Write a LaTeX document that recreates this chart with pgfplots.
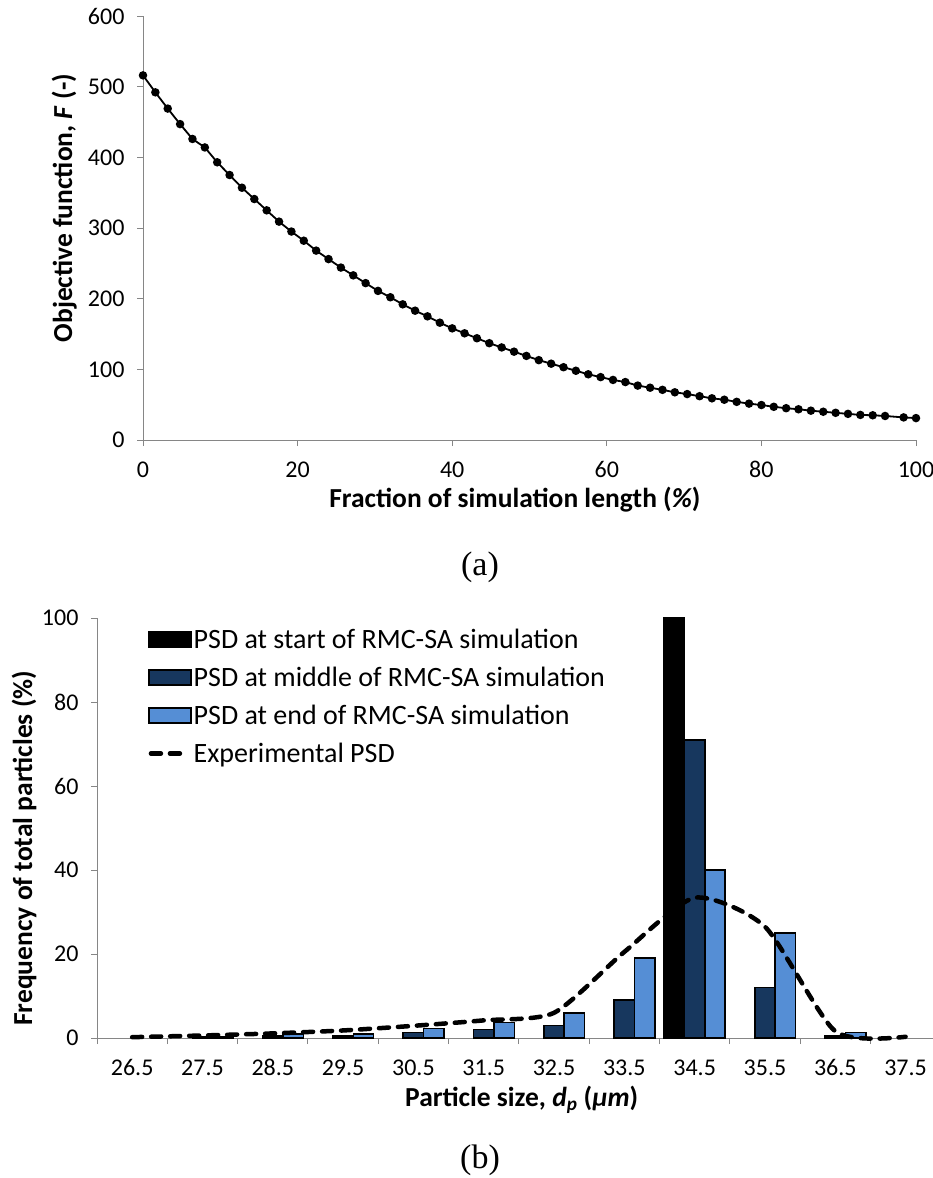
\documentclass[border=0pt]{standalone}
\usepackage{fontspec}
\setmainfont{Carlito}
\newfontfamily\capfont{Liberation Serif}
\usepackage{pgfplots}
\pgfplotsset{compat=1.18}

\definecolor{axgray}{RGB}{134,134,134}
\definecolor{darkblue}{RGB}{23,55,94}
\definecolor{lightblue}{RGB}{85,142,213}

\pgfplotsset{
  excelaxis/.style={
    scale only axis,
    axis lines*=left,
    axis line style={axgray, line width=1pt},
    tick style={axgray, line width=1pt},
    tick align=outside,
    major tick length=6pt,
    minor tick length=6pt,
    tick label style={font=\fontsize{24}{28}\selectfont, black},
    xticklabel style={yshift=-12pt},
    yticklabel style={xshift=-9pt},
    label style={font=\bfseries\fontsize{27.5}{32}\selectfont},
    /pgf/number format/assume math mode=true,
    clip=false,
  }
}

\begin{document}
\begin{tikzpicture}

% (a) objective function
\begin{axis}[excelaxis,
    at={(143pt,-440pt)}, anchor=south west,
    width=773pt, height=424pt,
    xmin=0, xmax=100, ymin=0, ymax=600,
    xtick={0,20,...,100}, ytick={0,100,...,600},
    xlabel={Fraction of simulation length (\textit{\%})},
    ylabel={Objective function, \textit{F} (-)},
    xlabel style={at={(axis description cs:0.481,-0.1415)}, anchor=center},
    ylabel style={at={(axis description cs:-0.102,0.547)}, anchor=center},
]
\addplot[black, line width=1.8pt, mark=*, mark size=3.3pt] coordinates {
 (0,516) (1.6,492) (3.2,469) (4.8,447) (6.4,426) (8.0,414) (9.6,393)
 (11.2,375) (12.8,357) (14.4,341) (16.0,325) (17.6,309) (19.2,295)
 (20.8,282) (22.4,268) (24.0,256) (25.6,244) (27.2,233) (28.8,222)
 (30.4,211) (32.0,202) (33.6,192) (35.2,183) (36.8,175) (38.4,166)
 (40.0,158) (41.6,151) (43.2,144) (44.8,137) (46.4,131) (48.0,125)
 (49.6,119) (51.2,113) (52.8,108) (54.4,103) (56.0,98) (57.6,93)
 (59.2,89) (60.8,85) (62.4,82) (64.0,77) (65.6,74) (67.2,71)
 (68.8,67.5) (70.4,65) (72.0,62) (73.6,59) (75.2,57) (76.8,54)
 (78.4,51.5) (80.0,49.5) (81.6,47) (83.2,45) (84.8,43.5) (86.4,41.5)
 (88.0,40) (89.6,38.5) (91.2,37) (92.8,35.5) (94.4,35) (96.0,34)
 (98.4,32) (100,31)
};
\end{axis}

\node[font=\capfont\fontsize{34}{40}\selectfont] at (480pt,-567pt) {(a)};

% (b) particle size distributions
\begin{axis}[excelaxis,
    at={(97pt,-1038pt)}, anchor=south west,
    width=836pt, height=420pt,
    xmin=-0.5, xmax=11.39, ymin=0, ymax=100,
    xtick={0,...,11},
    xticklabels={26.5,27.5,28.5,29.5,30.5,31.5,32.5,33.5,34.5,35.5,36.5,37.5},
    major x tick style={draw=none},
    minor xtick={-0.5,0.5,...,10.5},
    ytick={0,20,...,100},
    xlabel={Particle size, \textit{d}\textsubscript{\textit{p}} (\textit{μm})},
    ylabel={Frequency of total particles (\%)},
    xlabel style={at={(axis description cs:0.508,-0.148)}, anchor=center},
    ylabel style={at={(axis description cs:-0.0873,0.452)}, anchor=center},
    legend style={at={(axis description cs:0,1)}, anchor=north west,
      xshift=48pt, yshift=-7pt, draw=none, fill=none,
      font=\fontsize{28}{33}\selectfont, row sep=13pt,
      nodes={inner sep=2pt},
      /tikz/every even column/.append style={column sep=0pt}},
    legend cell align=left,
]
\addplot[ybar, bar width=0.29, bar shift=-0.29, fill=black, draw=black, line width=1.5pt,
  legend image code/.code={\draw[fill=black, draw=black, line width=1.5pt] (0pt,-7.5pt) rectangle (42pt,7.5pt);}]
  coordinates {(8,100)};
\addplot[ybar, bar width=0.29, bar shift=0, fill=darkblue, draw=black, line width=1.5pt,
  legend image code/.code={\draw[fill=darkblue, draw=black, line width=1.5pt] (0pt,-7.5pt) rectangle (42pt,7.5pt);}]
  coordinates {(1,0.3) (2,0.5) (3,0.5) (4,1.3) (5,2.0) (6,3.0) (7,9.0) (8,71) (9,12) (10,0.5)};
\addplot[ybar, bar width=0.29, bar shift=0.29, fill=lightblue, draw=black, line width=1.5pt,
  legend image code/.code={\draw[fill=lightblue, draw=black, line width=1.5pt] (0pt,-7.5pt) rectangle (42pt,7.5pt);}]
  coordinates {(1,0.3) (2,1.0) (3,1.0) (4,2.3) (5,3.7) (6,6.0) (7,19) (8,40) (9,25) (10,1.3)};
\addplot[black, line width=4.5pt, dash pattern=on 10pt off 9pt, line cap=round, smooth, tension=0.4,
  legend image code/.code={\draw[black, line width=4.5pt, dash pattern=on 10pt off 9pt, line cap=round] (2pt,0pt) -- (40pt,0pt);}]
  coordinates {(0,0.2) (1,0.6) (2,1.1) (3,1.8) (4,2.9) (5,4.2) (6,6.0) (7,20.5) (8,33.4) (9,26.5) (10,1.6) (11,0.3)};
\legend{PSD at start of RMC-SA simulation, PSD at middle of RMC-SA simulation,
  PSD at end of RMC-SA simulation, Experimental PSD}
\end{axis}

\node[font=\capfont\fontsize{34}{40}\selectfont] at (480pt,-1160pt) {(b)};

\pgfresetboundingbox
\path[use as bounding box] (0pt,0pt) rectangle (933pt,-1178pt);
\end{tikzpicture}
\end{document}
